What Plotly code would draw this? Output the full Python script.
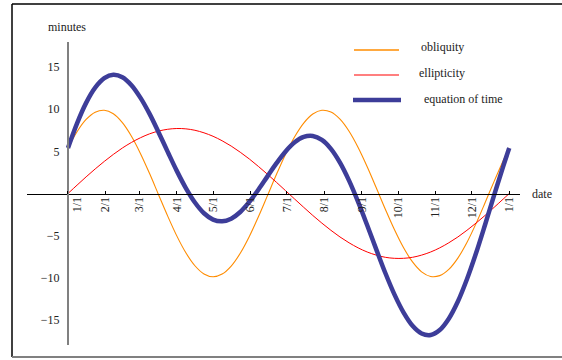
import plotly.graph_objects as go

# ---- data ----
days = [0, 7.5, 15, 22.5, 30, 37.5, 45, 52.5, 60, 67.5, 75, 82.5, 90, 97.5, 105, 112.5,
        120, 127.5, 135, 142.5, 150, 157.5, 165, 172.5, 180, 187.5, 195, 202.5, 210, 217.5,
        225, 232.5, 240, 247.5, 255, 262.5, 270, 277.5, 285, 292.5, 300, 307.5, 315, 322.5,
        330, 337.5, 345, 352.5, 360, 365]
obliquity = [5.38, 7.32, 8.77, 9.63, 9.86, 9.44, 8.39, 6.78, 4.72, 2.36, -0.17, -2.68,
             -5.02, -7.02, -8.56, -9.53, -9.87, -9.55, -8.60, -7.08, -5.09, -2.76, -0.25, 2.27,
             4.65, 6.72, 8.34, 9.41, 9.86, 9.65, 8.80, 7.37, 5.45, 3.17, 0.68, -1.86,
             -4.27, -6.40, -8.11, -9.28, -9.83, -9.73, -8.99, -7.65, -5.80, -3.57, -1.10, 1.44,
             3.88, 5.38]
ellipticity = [0.0, 0.99, 1.97, 2.91, 3.80, 4.63, 5.39, 6.05, 6.61, 7.07, 7.40, 7.61,
               7.70, 7.66, 7.49, 7.19, 6.78, 6.25, 5.62, 4.89, 4.09, 3.21, 2.28, 1.32,
               0.33, -0.66, -1.64, -2.60, -3.51, -4.36, -5.15, -5.84, -6.44, -6.93, -7.30, -7.56,
               -7.68, -7.68, -7.56, -7.30, -6.93, -6.44, -5.84, -5.15, -4.36, -3.51, -2.60, -1.64,
               -0.66, 0.0]
equation_of_time = [5.38, 8.31, 10.74, 12.54, 13.66, 14.07, 13.78, 12.83, 11.33, 9.43, 7.23, 4.93,
                    2.68, 0.64, -1.07, -2.34, -3.09, -3.30, -2.98, -2.19, -1.00, 0.45, 2.03, 3.59,
                    4.98, 6.06, 6.70, 6.81, 6.35, 5.29, 3.66, 1.53, -0.99, -3.76, -6.62, -9.42,
                    -11.95, -14.08, -15.67, -16.58, -16.76, -16.17, -14.83, -12.80, -10.16, -7.08, -3.70, -0.20,
                    3.22, 5.38]
month_days = [0, 31, 59, 90, 120, 151, 181, 212, 243, 273, 304, 334, 365]
month_labels = ["1/1", "2/1", "3/1", "4/1", "5/1", "6/1", "7/1", "8/1", "9/1",
                "10/1", "11/1", "12/1", "1/1"]
y_ticks = [-15, -10, -5, 5, 10, 15]
series_names = ["obliquity", "ellipticity", "equation of time"]

ORANGE = "#FF8C00"
RED = "#FF0000"
BLUE = "#3D3D99"
FONT = "Liberation Serif"
TXT = "#222222"

W, H = 562, 360
ML, MR, MT, MB = 27, 42, 42, 15
PW, PH = W - ML - MR, H - MT - MB


def px(x):
    return (x - ML) / PW


def py(y):
    return (H - MB - y) / PH


fig = go.Figure()
fig.add_trace(go.Scatter(x=days, y=obliquity, mode="lines",
                         line=dict(color=ORANGE, width=1.1, shape="spline"), name=series_names[0]))
fig.add_trace(go.Scatter(x=days, y=ellipticity, mode="lines",
                         line=dict(color=RED, width=1, shape="spline"), name=series_names[1]))
fig.add_trace(go.Scatter(x=days, y=equation_of_time, mode="lines",
                         line=dict(color=BLUE, width=4.5, shape="spline"), name=series_names[2]))

xrange = [-33.9, 373.9]
yrange = [-17.95, 17.95]
ypos0 = (0 - xrange[0]) / (xrange[1] - xrange[0])

label_pos = list(month_days)
label_pos[0] = month_days[0] + 7.5  # first label nudged off the vertical axis

fig.update_layout(
    width=W, height=H,
    margin=dict(l=ML, r=MR, t=MT, b=MB),
    paper_bgcolor="white", plot_bgcolor="white",
    showlegend=False,
    font=dict(family=FONT, size=12, color=TXT),
    xaxis=dict(range=xrange, anchor="free", position=0.5, showgrid=False, zeroline=False,
               showline=True, linecolor="black", linewidth=1,
               tickvals=month_days, ticktext=[""] * len(month_days),
               ticks="inside", ticklen=3, tickcolor="black", tickwidth=1),
    xaxis2=dict(range=xrange, overlaying="x", anchor="free", position=0.5, showgrid=False,
                zeroline=False, showline=False, tickvals=label_pos, ticktext=month_labels,
                ticks="", tickangle=-90, side="bottom",
                tickfont=dict(family=FONT, size=12, color=TXT)),
    yaxis=dict(range=yrange, anchor="free", position=ypos0, showgrid=False, zeroline=False,
               showline=True, linecolor="#808080", linewidth=2,
               tickvals=y_ticks, ticks="", ticklabelstandoff=5,
               tickfont=dict(family=FONT, size=12, color=TXT)),
)
# invisible trace so the label axis is active
fig.add_trace(go.Scatter(x=[xrange[0]], y=[0], xaxis="x2", mode="markers",
                         marker=dict(opacity=0), hoverinfo="skip", showlegend=False))

shapes = []
# frame
shapes.append(dict(type="line", xref="paper", yref="paper", x0=px(12), x1=px(562), y0=py(4), y1=py(4),
                   line=dict(color="black", width=1.5)))
shapes.append(dict(type="line", xref="paper", yref="paper", x0=px(12), x1=px(12), y0=py(4), y1=py(357),
                   line=dict(color="black", width=1.5)))
shapes.append(dict(type="line", xref="paper", yref="paper", x0=px(12), x1=px(562), y0=py(357), y1=py(357),
                   line=dict(color="#808080", width=2)))
# legend keys
legend_rows = [(50, 354, 399, ORANGE, 1.5, 419, 47),
               (75, 354, 399, RED, 1.2, 417, 73),
               (100, 353, 401, BLUE, 4.5, 422, 99)]
annotations = []
for (ly, lx0, lx1, col, lw, tx, ty), name in zip(legend_rows, series_names):
    shapes.append(dict(type="line", xref="paper", yref="paper", x0=px(lx0), x1=px(lx1), y0=py(ly), y1=py(ly),
                       line=dict(color=col, width=lw)))
    annotations.append(dict(xref="paper", yref="paper", x=px(tx), y=py(ty), text=name, showarrow=False,
                            xanchor="left", yanchor="middle", font=dict(family=FONT, size=12, color=TXT)))

annotations.append(dict(xref="paper", yref="paper", x=px(67), y=py(27), text="minutes", showarrow=False,
                        xanchor="center", yanchor="middle", font=dict(family=FONT, size=12, color=TXT)))
annotations.append(dict(xref="paper", yref="paper", x=px(530), y=py(194), text="date", showarrow=False,
                        xanchor="left", yanchor="middle", font=dict(family=FONT, size=12, color=TXT)))

fig.update_layout(shapes=shapes, annotations=annotations)
fig.write_html("out.html", config={"displayModeBar": False},
               post_script="document.body.style.margin='0';document.body.style.overflow='hidden';")
